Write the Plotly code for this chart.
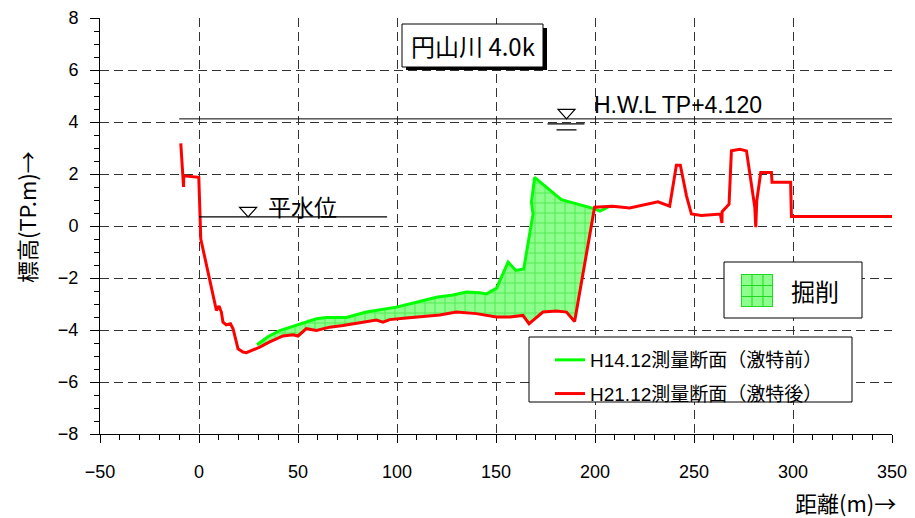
import plotly.graph_objects as go

# ---------------- data ----------------
# H21.12 survey (after)  - red
h21_x = [-9.2, -7.9, -7.8, -7.7, -0.1, 0.9, 8.8, 10.1, 11.3, 12.1, 13.8, 15.9, 17.2, 19.7, 22.2, 23.9,
         26.5, 30.7, 35.7, 42.4, 47.5, 50.0, 54.2, 59.3, 66.0, 72.7, 81.2, 89.6, 92.9, 96.3, 104.7,
         114.8, 121.6, 130.0, 140.1, 150.2, 157.0, 163.6, 166.7, 168.7, 173.7, 180.5, 185.6, 189.7,
         199.8, 209.0, 217.5, 231.8, 237.7, 241.1, 243.1, 246.2, 248.7, 253.7, 263.3, 264.1, 264.2,
         267.7, 268.9, 273.1, 276.5, 280.7, 281.2, 281.7, 283.7, 289.1, 289.4, 298.8, 299.2, 350.0]
h21_y = [3.18, 1.93, 1.50, 1.93, 1.87, -0.50, -3.25, -3.08, -3.31, -3.70, -3.80, -3.76, -3.95, -4.72,
         -4.85, -4.87, -4.79, -4.66, -4.46, -4.23, -4.18, -4.23, -3.95, -4.02, -3.89, -3.83, -3.72,
         -3.62, -3.70, -3.60, -3.54, -3.47, -3.42, -3.31, -3.37, -3.50, -3.50, -3.44, -3.76, -3.63,
         -3.31, -3.27, -3.31, -3.67, 0.72, 0.76, 0.69, 0.93, 0.76, 2.34, 2.34, 1.16, 0.46, 0.40, 0.46,
         0.12, 0.55, 0.84, 2.89, 2.95, 2.89, 0.72, -0.05, 0.97, 2.06, 2.06, 1.68, 1.68, 0.37, 0.37]

# H14.12 survey (before) - green
h14_x = [29.3, 35.0, 40.8, 50.0, 59.3, 64.3, 74.4, 84.5, 99.7, 109.8, 119.9, 128.3, 135.0, 141.8,
         145.2, 150.2, 156.1, 160.0, 164.0, 168.7, 167.9, 169.5, 183.0, 199.0, 202.5, 207.0]
h14_y = [-4.57, -4.25, -4.02, -3.80, -3.57, -3.52, -3.52, -3.31, -3.12, -2.93, -2.74, -2.65, -2.54,
         -2.57, -2.61, -2.40, -1.39, -1.71, -1.65, 0.46, 0.91, 1.87, 1.01, 0.68, 0.57, 0.74]

HWL = 4.12          # H.W.L TP+4.120
LWL = 0.35          # 平水位
HWL_X = [-10, 350]
LWL_X = [0, 95]
HWL_MARK_X = 185.6
LWL_MARK_X = 24.8

x_ticks = [-50, 0, 50, 100, 150, 200, 250, 300, 350]
y_ticks = [-8, -6, -4, -2, 0, 2, 4, 6, 8]

title_text = "円山川 4.0k"
name_h14 = "H14.12測量断面（激特前）"
name_h21 = "H21.12測量断面（激特後）"
name_cut = "掘削"

LAT = "Liberation Sans, Arial, Noto Sans CJK JP"
JP = "Noto Sans CJK JP, Liberation Sans"

# ---------------- geometry helpers (window pixel -> paper) ----------------
OFF = 8                      # page body margin offset of the figure
W, H = 915 - OFF, 518 - OFF
ML, MR, MT, MB = 92, 23, 10, 84
PW, PH = W - ML - MR, H - MT - MB


def px(x):
    return (x - OFF - ML) / PW


def py(y):
    return (H - MB - (y - OFF)) / PH


# excavation polygon: green (before) forward, red (after) backward
x_end = 199.8
poly_x = [x for x in h14_x if x <= x_end]
poly_y = [y for x, y in zip(h14_x, h14_y) if x <= x_end]
rev = [(x, y) for x, y in zip(h21_x, h21_y) if 27 <= x <= x_end][::-1]
poly_x += [p[0] for p in rev]
poly_y += [p[1] for p in rev]

fig = go.Figure()
fig.add_trace(go.Scatter(
    x=poly_x, y=poly_y, fill="toself", mode="lines", line=dict(width=0),
    fillcolor="#8CFF8C",
    fillpattern=dict(shape="+", bgcolor="#8CFF8C", fgcolor="#1FD81F", size=10, solidity=0.2),
    showlegend=False, hoverinfo="skip", name=name_cut))
fig.add_trace(go.Scatter(x=h14_x, y=h14_y, mode="lines", name=name_h14,
                         line=dict(color="#00FF00", width=3), legendgroup="a"))
fig.add_trace(go.Scatter(x=h21_x, y=h21_y, mode="lines", name=name_h21,
                         line=dict(color="#FF0000", width=3), legendgroup="b"))

shapes = []
# HWL and normal water level lines
shapes.append(dict(type="line", xref="x", yref="y", x0=HWL_X[0], x1=HWL_X[1], y0=HWL, y1=HWL,
                   line=dict(color="black", width=1)))
shapes.append(dict(type="line", xref="x", yref="y", x0=LWL_X[0], x1=LWL_X[1], y0=LWL, y1=LWL,
                   line=dict(color="black", width=1.2)))
# water level triangles (pixel-sized, anchored on data)
tri = "M-8.5,9.5 L8.5,9.5 L0,0 Z"
for mx, my in [(HWL_MARK_X, HWL), (LWL_MARK_X, LWL)]:
    shapes.append(dict(type="path", xref="x", yref="y", xsizemode="pixel", ysizemode="pixel",
                       xanchor=mx, yanchor=my, path=tri, line=dict(color="black", width=1.2),
                       fillcolor="white"))
shapes.append(dict(type="path", xref="x", yref="y", xsizemode="pixel", ysizemode="pixel",
                   xanchor=HWL_MARK_X, yanchor=HWL, path="M-19,-5 L18,-5 M-10,-11 L10,-11",
                   line=dict(color="black", width=1.2)))

# title box with shadow
shapes.append(dict(type="rect", xref="paper", yref="paper", x0=px(406), x1=px(547), y0=py(70), y1=py(28),
                   fillcolor="black", line=dict(width=0), layer="above"))
shapes.append(dict(type="rect", xref="paper", yref="paper", x0=px(402), x1=px(543), y0=py(67), y1=py(24),
                   fillcolor="white", line=dict(color="black", width=1), layer="above"))
# legend box
shapes.append(dict(type="rect", xref="paper", yref="paper", x0=px(529), x1=px(852), y0=py(402), y1=py(337),
                   fillcolor="white", line=dict(color="black", width=1), layer="above"))
# excavation legend box
shapes.append(dict(type="rect", xref="paper", yref="paper", x0=px(724), x1=px(862), y0=py(318), y1=py(262),
                   fillcolor="white", line=dict(color="black", width=1), layer="above"))
shapes.append(dict(type="rect", xref="paper", yref="paper", x0=px(741), x1=px(773), y0=py(307), y1=py(274),
                   fillcolor="#8CFF8C", line=dict(width=0), layer="above"))
for gx in [741.5, 752, 763, 772.5]:
    shapes.append(dict(type="line", xref="paper", yref="paper", x0=px(gx), x1=px(gx), y0=py(307), y1=py(274),
                       line=dict(color="#1FD81F", width=1), layer="above"))
for gy in [274.5, 285.5, 296.5, 306.5]:
    shapes.append(dict(type="line", xref="paper", yref="paper", x0=px(741), x1=px(773), y0=py(gy), y1=py(gy),
                       line=dict(color="#1FD81F", width=1), layer="above"))

annotations = [
    dict(text=title_text, xref="paper", yref="paper", x=px(472.5), y=py(45.5), showarrow=False,
         xanchor="center", yanchor="middle", font=dict(family=JP, size=24, color="black")),
    dict(text="H.W.L TP+4.120", xref="x", yref="y", x=198.7, y=HWL, yshift=14, showarrow=False,
         xanchor="left", yanchor="middle", font=dict(family=LAT, size=23, color="black")),
    dict(text="平水位", xref="x", yref="y", x=34, y=LWL, yshift=11, showarrow=False,
         xanchor="left", yanchor="middle", font=dict(family=JP, size=23, color="black")),
    dict(text=name_cut, xref="paper", yref="paper", x=px(789), y=py(290), showarrow=False,
         xanchor="left", yanchor="middle", font=dict(family=JP, size=24, color="black")),
    dict(text="標高(TP.m)→", xref="paper", yref="paper", x=px(26), y=py(217), showarrow=False,
         textangle=-90, xanchor="center", yanchor="middle", font=dict(family=JP, size=22, color="black")),
    dict(text="距離(m)→", xref="paper", yref="paper", x=px(898), y=py(502), showarrow=False,
         xanchor="right", yanchor="middle", font=dict(family=JP, size=22, color="black")),
]

grid = dict(showgrid=True, gridcolor="#333333", gridwidth=1, griddash="9px,5px", zeroline=False,
            showline=True, linecolor="black", linewidth=1, ticks="outside", tickcolor="black",
            tickwidth=1, tickfont=dict(family=LAT, size=18, color="black"), automargin=False)

fig.update_layout(
    width=W, height=H, margin=dict(l=ML, r=MR, t=MT, b=MB, autoexpand=False),
    paper_bgcolor="white", plot_bgcolor="white",
    shapes=shapes, annotations=annotations,
    xaxis=dict(range=[-50, 350], tickmode="array", tickvals=x_ticks, ticklen=8,
               ticklabelstandoff=13,
               minor=dict(dtick=10, tick0=0, ticks="outside", ticklen=5, tickcolor="black", showgrid=False),
               **grid),
    yaxis=dict(range=[-8, 8], tickmode="array", tickvals=y_ticks, ticklen=9,
               ticklabelstandoff=8,
               minor=dict(dtick=0.5, tick0=0, ticks="outside", ticklen=5, tickcolor="black", showgrid=False),
               **grid),
    legend=dict(x=px(550), y=py(341), xanchor="left", yanchor="top", bgcolor="rgba(0,0,0,0)",
                borderwidth=0, font=dict(family=LAT + ", Noto Sans CJK JP", size=19, color="black"),
                traceorder="grouped", tracegroupgap=6),
    showlegend=True,
)

fig.write_html("out.html")
